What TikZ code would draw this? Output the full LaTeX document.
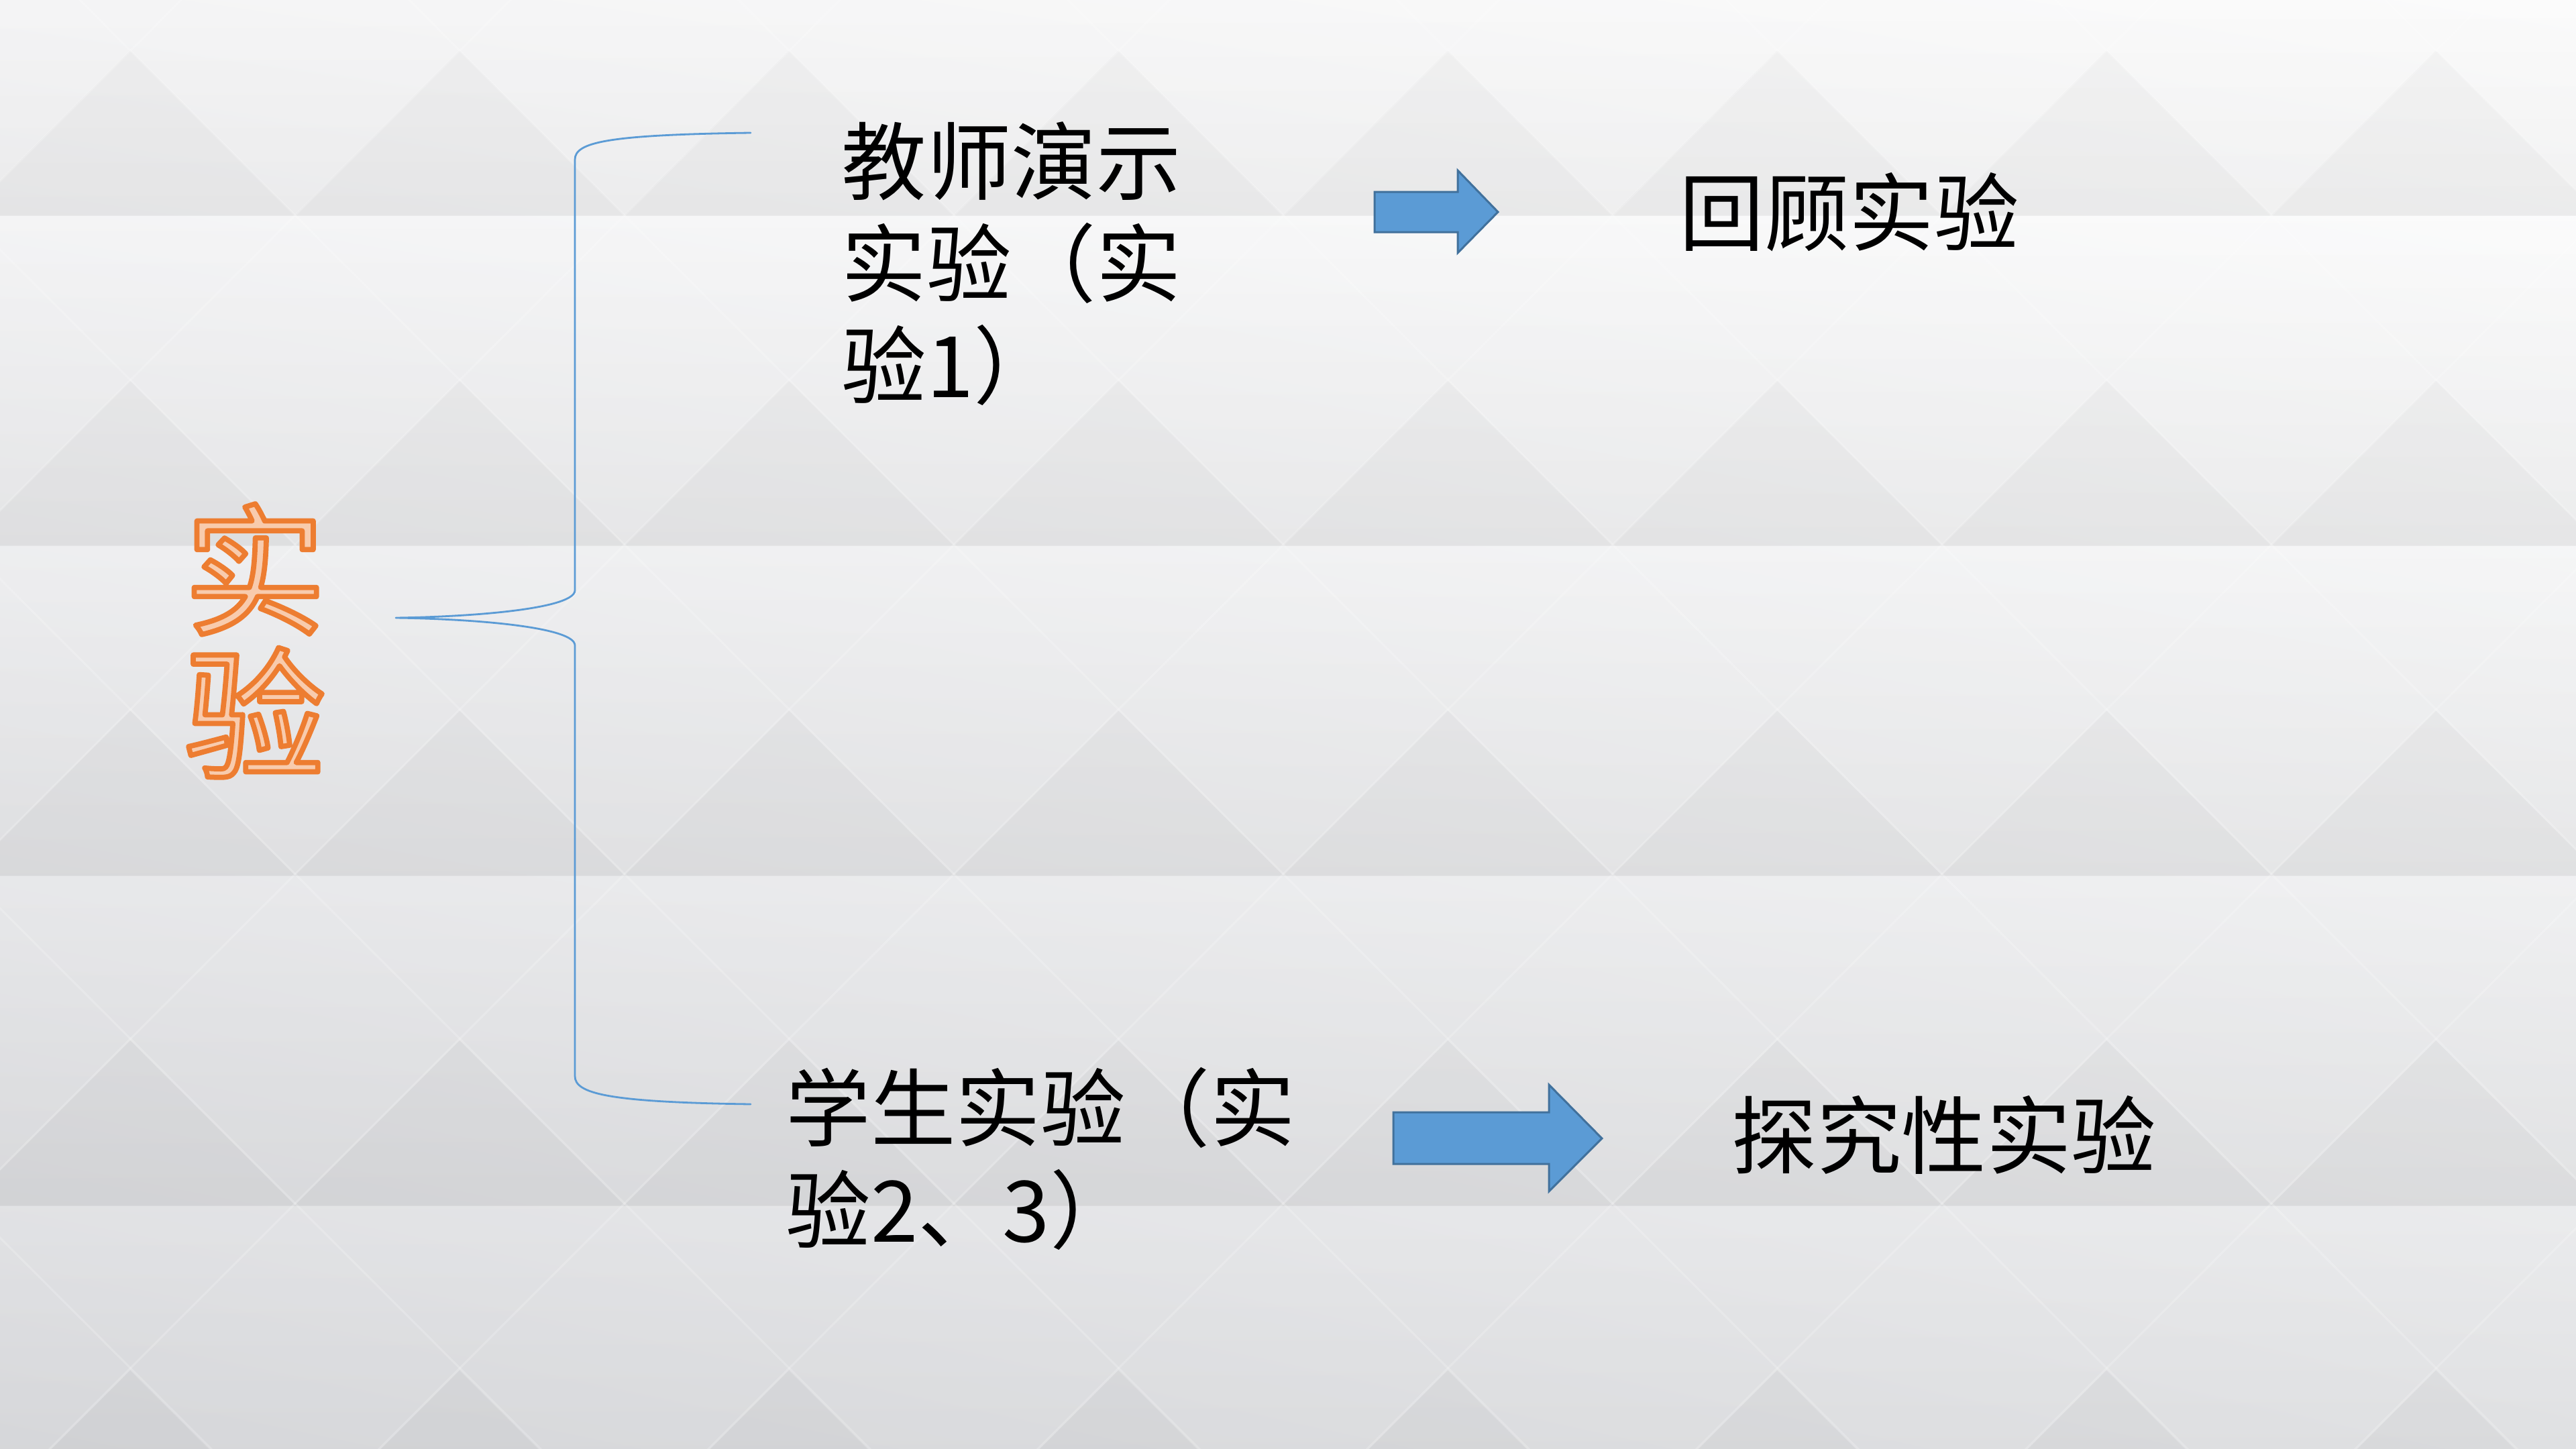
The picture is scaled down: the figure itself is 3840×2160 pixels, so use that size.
\documentclass[tikz,border=0pt]{standalone}
\usepackage{fontspec}
\newfontfamily\cjk{Noto Sans CJK SC}
\usetikzlibrary{calc,shadings}
\definecolor{braceblue}{HTML}{5B9BD5}
\definecolor{arrowfill}{HTML}{5B9BD5}
\definecolor{arrowline}{HTML}{41719C}
\definecolor{titlefill}{HTML}{F8CBAD}
\definecolor{bgUL}{HTML}{F8F8F9}
\definecolor{bgUR}{HTML}{FFFFFF}
\definecolor{bgLL}{HTML}{DCDDE0}
\definecolor{bgLR}{HTML}{E6E7E9}
\newcommand\outlinetext[1]{\special{pdf:literal direct 0.929 0.490 0.192 RG 2 Tr 2.2 w}#1\special{pdf:literal direct 0 Tr}}

\begin{document}
\begin{tikzpicture}[x=.1mm,y=-.1mm,line cap=round,line join=round,
  every node/.style={font=\cjk\fontsize{36}{43.3}\selectfont,inner sep=0pt},
  band/.style={top color=white,bottom color=black,opacity=.04},
  ridge/.style={fill=black,opacity=.025},
  seam/.style={white,opacity=.2,line width=.3mm},
  brace/.style={braceblue,line width=.28mm},
  blockarrow/.style={fill=arrowfill,draw=arrowline,line width=.3mm,line join=miter}]
  \useasboundingbox (0,0) rectangle (3840,2160);
  % grey backdrop with rows of faint triangles
  \shade[upper left=bgUL,upper right=bgUR,lower left=bgLL,lower right=bgLR]
    (0,0) rectangle (3840,2160);
  \begin{scope}
    \clip (0,0) rectangle (3840,2160);
    \foreach \y in {-171,321,813,1305,1797}{
      \shade[band] (0,\y) rectangle (3840,\y+492);
      \foreach \x in {194,685,...,3631}
        \fill[ridge] (\x,\y+246) -- (\x+246,\y+492) -- (\x-246,\y+492) -- cycle;}
    \foreach \n in {-5,...,8}
      \draw[seam] ({119+491*\n-100},-100) -- ({119+491*\n+2300},2300);
    \foreach \n in {-2,...,11}
      \draw[seam] ({761+491*\n+100},-100) -- ({761+491*\n-2300},2300);
  \end{scope}
  \coordinate (braceTop) at (1119,198);
  \coordinate (braceTip) at (590,921);
  \coordinate (braceBot) at (1119,1646);
  \draw[brace] (braceTop) .. controls (905,201) and (857,212) .. (857,238)
    -- (857,880) .. controls (857,906) and (720,919) .. (braceTip)
    .. controls (720,923) and (857,936) .. (857,962)
    -- (857,1604) .. controls (857,1630) and (905,1643) .. (braceBot);
  \draw[blockarrow] (2049,286) -- (2173,286) -- (2173,254) -- (2233,316)
    -- (2173,377) -- (2173,346) -- (2049,346) -- cycle;
  \draw[blockarrow] (2077,1658) -- (2309,1658) -- (2309,1617) -- (2388,1697)
    -- (2309,1776) -- (2309,1735) -- (2077,1735) -- cycle;
  \node[font=\cjk\fontsize{60}{61}\selectfont,text=titlefill,align=center]
    (title) at (380,955) {\outlinetext{实}\\\outlinetext{验}};
  \node[anchor=north west,align=left] (demo) at (1254,181) {教师演示\\实验（实\\验1）};
  \node[anchor=west] (review) at (2503,316) {回顾实验};
  \node[anchor=north west,align=left] (student) at (1171,1590) {学生实验（实\\验2、3）};
  \node[anchor=west] (explore) at (2581,1692) {探究性实验};
\end{tikzpicture}
\end{document}
